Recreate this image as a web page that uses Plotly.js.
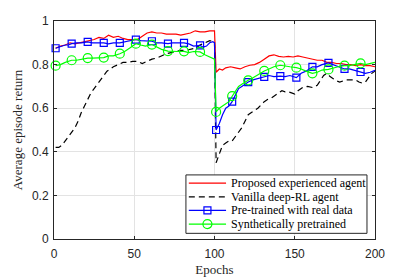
<!DOCTYPE html>
<html>
<head>
<meta charset="utf-8">
<script src="https://cdn.plot.ly/plotly-3.0.1.min.js"></script>
<style>html,body{margin:0;padding:0;background:#fff;}#chart{width:415px;height:277px;}</style>
</head>
<body>
<div id="chart"></div>
<script>
// ---- data ----
var seriesNames = ["Proposed experienced agent", "Vanilla deep-RL agent", "Pre-trained with real data", "Synthetically pretrained"];

var redX = [1,4,7,10,13,16,19,22,25,28,31,34,37,40,43,46,49,52,55,58,61,64,67,70,73,76,79,82,85,88,91,94,97,100,
  101,103,105,107,110,113,116,119,122,125,128,131,134,137,140,143,146,149,152,155,158,161,164,167,170,173,176,179,182,185,188,191,194,197,200];
var redY = [0.875,0.885,0.89,0.9,0.895,0.9,0.905,0.91,0.915,0.925,0.92,0.935,0.925,0.93,0.92,0.915,0.915,0.915,0.93,0.945,
  0.95,0.945,0.945,0.94,0.94,0.94,0.935,0.94,0.945,0.955,0.95,0.95,0.955,0.955,
  0.765,0.78,0.775,0.785,0.79,0.785,0.78,0.79,0.797,0.8,0.81,0.825,0.84,0.845,0.838,0.835,0.838,0.835,0.84,0.835,0.83,0.825,0.82,0.82,0.81,0.81,0.805,0.805,0.8,0.8,0.795,0.8,0.795,0.795,0.79];

var blackX = [1,3,5,7,9,11,13,15,17,19,21,23,25,27,29,31,33,35,37,
  40,43,46,49,52,55,58,61,64,67,70,73,76,79,82,85,88,91,94,97,100,
  101,103,105,107,109,111,113,115,117,119,121,123,125,127,129,131,133,135,137,
  140,142,144,146,148,150,152,155,158,161,164,166,168,170,172,174,176,178,180,182,185,188,190,192,194,196,198,200];
var blackY = [0.42,0.42,0.43,0.45,0.47,0.49,0.51,0.54,0.58,0.61,0.64,0.67,0.69,0.71,0.73,0.75,0.77,0.78,0.79,
  0.8,0.81,0.81,0.815,0.815,0.805,0.815,0.825,0.83,0.84,0.85,0.855,0.86,0.865,0.865,0.87,0.875,0.89,0.9,0.91,0.905,
  0.35,0.39,0.43,0.44,0.45,0.45,0.47,0.49,0.51,0.54,0.57,0.58,0.59,0.6,0.615,0.63,0.64,0.645,0.655,
  0.67,0.68,0.675,0.675,0.67,0.665,0.68,0.695,0.7,0.695,0.705,0.73,0.75,0.76,0.745,0.735,0.725,0.72,0.725,0.73,0.73,0.73,0.72,0.715,0.72,0.74,0.76,0.77];

var blueX = [1,3,5,7,9,11,14,17,21,24,27,31,34,37,41,44,47,51,54,57,61,64,67,71,74,77,81,84,87,91,93,95,97,99,100,
  101,103,105,107,109,111,113,115,117,119,121,124,127,131,134,137,141,144,147,151,154,157,161,164,167,171,174,177,181,184,187,191,194,197,200];
var blueY = [0.875,0.88,0.885,0.89,0.89,0.896,0.9,0.9,0.904,0.9,0.9,0.9,0.895,0.9,0.9,0.905,0.91,0.915,0.91,0.91,0.907,0.9,0.9,0.896,0.9,0.9,0.9,0.895,0.885,0.888,0.88,0.885,0.9,0.905,0.9,
  0.5,0.53,0.57,0.6,0.61,0.63,0.66,0.69,0.7,0.71,0.72,0.73,0.735,0.744,0.75,0.745,0.747,0.745,0.75,0.74,0.76,0.77,0.79,0.79,0.8,0.808,0.8,0.79,0.78,0.78,0.775,0.766,0.76,0.765,0.774];

var greenX = [1,4,7,11,14,17,21,24,27,31,34,37,41,44,47,51,54,57,61,64,67,71,74,77,81,84,87,91,94,97,100,
  101,103,105,107,109,111,113,115,117,119,121,124,127,131,134,137,141,144,147,151,154,157,161,164,167,171,174,177,181,184,187,191,194,197,200];
var greenY = [0.795,0.8,0.81,0.82,0.82,0.825,0.83,0.83,0.83,0.832,0.84,0.84,0.85,0.86,0.875,0.896,0.89,0.885,0.892,0.88,0.87,0.862,0.86,0.86,0.861,0.855,0.86,0.858,0.845,0.835,0.825,
  0.583,0.6,0.61,0.62,0.63,0.655,0.68,0.7,0.71,0.72,0.728,0.74,0.755,0.771,0.78,0.79,0.797,0.795,0.79,0.786,0.78,0.77,0.76,0.765,0.775,0.778,0.785,0.79,0.795,0.795,0.8,0.806,0.8,0.805,0.81];

var xTicks = [0, 50, 100, 150, 200];
var yTicks = [0, 0.2, 0.4, 0.6, 0.8, 1];
var yTickText = ["0", "0.2", "0.4", "0.6", "0.8", "1"];

// markers every 10 epochs (1, 11, 21, ...)
function markerPts(xs, ys) {
  var mx = [], my = [];
  for (var i = 0; i < xs.length; i++) { if ((xs[i] - 1) % 10 === 0) { mx.push(xs[i]); my.push(ys[i]); } }
  return {x: mx, y: my};
}
var blueM = markerPts(blueX, blueY);
var greenM = markerPts(greenX, greenY);

var RED = '#ff0000', BLUE = '#0000ff', GREEN = '#00ff00', BLACK = '#000000';
var LW = 1.2;
var DASH = '6px,4px';
var SERIF = 'Liberation Serif, Times New Roman, serif';

var traces = [
  {x: redX, y: redY, name: seriesNames[0], mode:'lines', line:{color:RED, width:LW}, hoverinfo:'skip'},
  {x: blackX, y: blackY, name: seriesNames[1], mode:'lines', line:{color:BLACK, width:LW, dash:DASH}, hoverinfo:'skip'},
  {x: blueX, y: blueY, name: seriesNames[2], mode:'lines', line:{color:BLUE, width:LW}, hoverinfo:'skip'},
  {x: blueM.x, y: blueM.y, name: seriesNames[2], mode:'markers', marker:{symbol:'square-open', size:7, color:BLUE, line:{width:1.2, color:BLUE}}, hoverinfo:'skip', cliponaxis:false},
  {x: greenX, y: greenY, name: seriesNames[3], mode:'lines', line:{color:GREEN, width:LW}, hoverinfo:'skip'},
  {x: greenM.x, y: greenM.y, name: seriesNames[3], mode:'markers', marker:{symbol:'circle-open', size:9, color:GREEN, line:{width:1.2, color:GREEN}}, hoverinfo:'skip', cliponaxis:false}
];

// ---- legend (drawn as a box in the lower right of the axes) ----
var legendStyles = [
  {color: RED, dash: 'solid', mark: null},
  {color: BLACK, dash: DASH, mark: null},
  {color: BLUE, dash: 'solid', mark: 'rect'},
  {color: GREEN, dash: 'solid', mark: 'circle'}
];
var LG = {x0: 0.411, x1: 0.975, y0: 0.026, y1: 0.294, rowTop: 0.256, rowStep: 0.0625, lx0: 0.42, lx1: 0.536, tx: 0.545};
var shapes = [{type:'rect', xref:'paper', yref:'paper', x0:LG.x0, x1:LG.x1, y0:LG.y0, y1:LG.y1,
  fillcolor:'#ffffff', line:{color:'#262626', width:1}, layer:'above'}];
var annotations = [];
legendStyles.forEach(function (s, i) {
  var yy = LG.rowTop - i * LG.rowStep;
  shapes.push({type:'line', xref:'paper', yref:'paper', x0:LG.lx0, x1:LG.lx1, y0:yy, y1:yy, line:{color:s.color, width:LW, dash:s.dash}, layer:'above'});
  var xm = (LG.lx0 + LG.lx1) / 2;
  if (s.mark === 'rect') {
    shapes.push({type:'rect', xref:'paper', yref:'paper', xsizemode:'pixel', ysizemode:'pixel', xanchor:xm, yanchor:yy,
      x0:-3.5, x1:3.5, y0:-3.5, y1:3.5, line:{color:s.color, width:1.2}, fillcolor:'rgba(0,0,0,0)', layer:'above'});
  } else if (s.mark === 'circle') {
    shapes.push({type:'circle', xref:'paper', yref:'paper', xsizemode:'pixel', ysizemode:'pixel', xanchor:xm, yanchor:yy,
      x0:-4.5, x1:4.5, y0:-4.5, y1:4.5, line:{color:s.color, width:1.2}, fillcolor:'rgba(0,0,0,0)', layer:'above'});
  }
  annotations.push({xref:'paper', yref:'paper', x:LG.tx, y:yy, xanchor:'left', yanchor:'middle', showarrow:false,
    text: seriesNames[i], font:{family:SERIF, size:12, color:'#000000'}});
});

var axisCommon = {
  showline: true, mirror: 'ticks', linecolor: '#262626', linewidth: 1,
  ticks: 'inside', ticklen: 3, tickcolor: '#262626', tickwidth: 1,
  showgrid: true, gridcolor: '#e3e3e3', gridwidth: 1, zeroline: false,
  tickfont: {family: 'Liberation Sans, Arial, sans-serif', size: 12, color: '#262626'}
};

var layout = {
  width: 415, height: 277,
  margin: {l: 54, r: 40, t: 21, b: 38},
  paper_bgcolor: '#ffffff', plot_bgcolor: '#ffffff',
  showlegend: false,
  shapes: shapes,
  annotations: annotations,
  xaxis: Object.assign({}, axisCommon, {
    range: [0, 200], tickvals: xTicks, ticktext: xTicks.map(String), ticklabelstandoff: 4,
    title: {text: 'Epochs', font: {family: SERIF, size: 13, color: '#262626'}, standoff: 4}
  }),
  yaxis: Object.assign({}, axisCommon, {
    range: [0, 1], tickvals: yTicks, ticktext: yTickText, ticklabelstandoff: 2,
    title: {text: 'Average episode return', font: {family: SERIF, size: 13, color: '#262626'}, standoff: 6}
  })
};

Plotly.newPlot('chart', traces, layout, {staticPlot: true, displayModeBar: false});
</script>
</body>
</html>
